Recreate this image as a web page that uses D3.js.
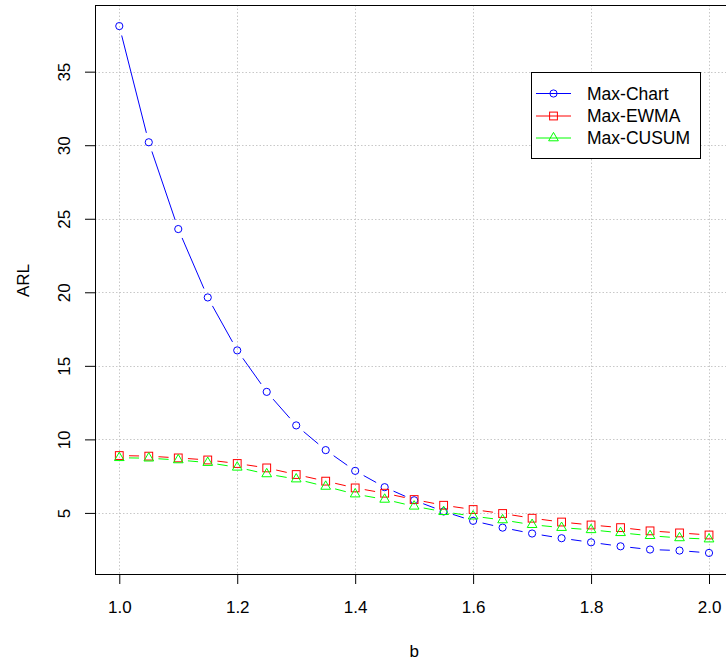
<!DOCTYPE html>
<html>
	<head>
		<meta charset="UTF-8">
		<title>ARL comparison</title>
		<script type="text/javascript" src="https://cdn.jsdelivr.net/npm/d3@7/dist/d3.min.js"></script>
		<style>
			body { margin: 0; background: #fff; }
			text { font-family: "Liberation Sans", Arial, sans-serif; fill: #000; }
		</style>
	</head>
	<body>
		<script>
			//shift values b
			var bValues = [1.0, 1.05, 1.1, 1.15, 1.2, 1.25, 1.3, 1.35, 1.4, 1.45, 1.5,
				1.55, 1.6, 1.65, 1.7, 1.75, 1.8, 1.85, 1.9, 1.95, 2.0];

			//ARL of each chart
			var maxChart = [38.1, 30.2, 24.3, 19.65, 16.05, 13.23, 10.95, 9.27, 7.86, 6.75, 5.86,
				5.1, 4.46, 4.0, 3.6, 3.28, 3.0, 2.73, 2.51, 2.44, 2.28];
			var maxEwma = [8.9, 8.86, 8.74, 8.6, 8.36, 8.06, 7.61, 7.16, 6.7, 6.34, 5.91,
				5.52, 5.23, 4.96, 4.64, 4.38, 4.18, 4.0, 3.78, 3.64, 3.5];
			var maxCusum = [8.75, 8.72, 8.6, 8.42, 8.1, 7.65, 7.3, 6.8, 6.28, 5.92, 5.45,
				5.08, 4.78, 4.52, 4.2, 4.0, 3.85, 3.65, 3.45, 3.3, 3.22];

			var seriesNames = ["Max-Chart", "Max-EWMA", "Max-CUSUM"];
			var seriesColors = ["#0000ff", "#ff0000", "#00ff00"];
			var seriesShapes = ["circle", "square", "triangle"];

			var xTicks = [1.0, 1.2, 1.4, 1.6, 1.8, 2.0];
			var yTicks = [5, 10, 15, 20, 25, 30, 35];

			var w = 726;
			var h = 664;
			//note: "top" is taken by window.top, so use plot* names
			var plotLeft = 95, plotTop = 5, plotBottom = 574;

			var svg = d3.select("body")
				.append("svg")
				.attr("width", w)
				.attr("height", h);

			//R style 4% padding round the data
			var allY = maxChart.concat(maxEwma, maxCusum);
			var yMin = d3.min(allY), yMax = d3.max(allY);
			var yPad = (yMax - yMin) * 0.04;

			var xScale = d3.scaleLinear()
				.domain([0.96, 2.04])
				.range([plotLeft + 0.7, 732.6]);

			var yScale = d3.scaleLinear()
				.domain([yMin - yPad, yMax + yPad])
				.range([plotBottom, plotTop]);

			svg.append("clipPath").attr("id", "plotclip")
				.append("rect")
				.attr("x", plotLeft).attr("y", plotTop)
				.attr("width", w - plotLeft).attr("height", plotBottom - plotTop);

			//grid (dotted, light gray)
			var grid = svg.append("g").attr("clip-path", "url(#plotclip)");
			grid.selectAll("line.vx")
				.data(xTicks)
				.enter()
				.append("line")
				.attr("x1", function(d){ return Math.round(xScale(d)) + 0.5; })
				.attr("x2", function(d){ return Math.round(xScale(d)) + 0.5; })
				.attr("y1", plotTop).attr("y2", plotBottom)
				.attr("stroke", "#c8c8c8")
				.attr("stroke-dasharray", "1.5,2");
			grid.selectAll("line.hy")
				.data(yTicks)
				.enter()
				.append("line")
				.attr("y1", function(d){ return Math.round(yScale(d)) + 0.5; })
				.attr("y2", function(d){ return Math.round(yScale(d)) + 0.5; })
				.attr("x1", plotLeft).attr("x2", w)
				.attr("stroke", "#c8c8c8")
				.attr("stroke-dasharray", "1.5,2");

			//axes
			var xAxis = d3.axisBottom(xScale)
				.tickValues(xTicks)
				.tickSize(10)
				.tickPadding(17)
				.tickFormat(d3.format(".1f"));
			var gx = svg.append("g")
				.attr("transform", "translate(0," + plotBottom + ")")
				.call(xAxis);
			gx.select(".domain").remove();
			gx.selectAll("text").attr("font-size", "17px").attr("fill", "#000")
				.attr("font-family", "Liberation Sans, Arial, sans-serif");

			var yAxis = d3.axisLeft(yScale)
				.tickValues(yTicks)
				.tickSize(10);
			var gy = svg.append("g")
				.attr("transform", "translate(" + plotLeft + ",0)")
				.call(yAxis);
			gy.select(".domain").remove();
			gy.selectAll("text")
				.attr("font-size", "17px")
				.attr("font-family", "Liberation Sans, Arial, sans-serif")
				.attr("fill", "#000")
				.attr("x", null).attr("dy", null)
				.attr("text-anchor", "middle")
				.attr("transform", "translate(-25,0) rotate(-90)");

			//box round the plot
			svg.append("rect")
				.attr("x", plotLeft + 0.5).attr("y", plotTop + 0.5)
				.attr("width", 740 - plotLeft).attr("height", plotBottom - plotTop)
				.attr("fill", "none")
				.attr("stroke", "#000");

			//axis titles
			svg.append("text")
				.attr("x", xScale(1.5))
				.attr("y", 657)
				.attr("text-anchor", "middle")
				.attr("font-size", "17px")
				.text("b");
			svg.append("text")
				.attr("transform", "translate(29," + yScale(20.8) + ") rotate(-90)")
				.attr("text-anchor", "middle")
				.attr("font-size", "17px")
				.text("ARL");

			//symbol drawing like R pch 1, 0, 2
			function drawSymbol(g, shape, color, x, y) {
				if (shape == "circle") {
					g.append("circle").attr("cx", x).attr("cy", y).attr("r", 3.6)
						.attr("fill", "none").attr("stroke", color);
				} else if (shape == "square") {
					g.append("rect").attr("x", x - 3.9).attr("y", y - 3.9)
						.attr("width", 7.8).attr("height", 7.8)
						.attr("fill", "none").attr("stroke", color);
				} else {
					var r = 5.6, xc = 4.85, yc = 2.8;
					g.append("path")
						.attr("d", "M" + x + "," + (y - r) + "L" + (x + xc) + "," + (y + yc) +
							"L" + (x - xc) + "," + (y + yc) + "Z")
						.attr("fill", "none").attr("stroke", color);
				}
			}

			//type = "b": segments with a gap round each point
			var gap = 9.7;
			var plot = svg.append("g").attr("clip-path", "url(#plotclip)");
			var allSeries = [maxChart, maxEwma, maxCusum];

			allSeries.forEach(function(values, s) {
				var g = plot.append("g");
				for (var i = 0; i < values.length - 1; i++) {
					var x0 = xScale(bValues[i]), y0 = yScale(values[i]);
					var x1 = xScale(bValues[i + 1]), y1 = yScale(values[i + 1]);
					var len = Math.sqrt((x1 - x0) * (x1 - x0) + (y1 - y0) * (y1 - y0));
					if (len <= 2 * gap) continue;
					var ux = (x1 - x0) / len, uy = (y1 - y0) / len;
					g.append("line")
						.attr("x1", x0 + ux * gap).attr("y1", y0 + uy * gap)
						.attr("x2", x1 - ux * gap).attr("y2", y1 - uy * gap)
						.attr("stroke", seriesColors[s]);
				}
				values.forEach(function(v, i) {
					drawSymbol(g, seriesShapes[s], seriesColors[s], xScale(bValues[i]), yScale(v));
				});
			});

			//legend
			var legend = svg.append("g");
			legend.append("rect")
				.attr("x", 531.5).attr("y", 72.5)
				.attr("width", 169).attr("height", 86)
				.attr("fill", "#fff")
				.attr("stroke", "#000");
			var rowY = [93.5, 116, 138];
			seriesNames.forEach(function(name, s) {
				legend.append("line")
					.attr("x1", 536).attr("x2", 571)
					.attr("y1", rowY[s]).attr("y2", rowY[s])
					.attr("stroke", seriesColors[s]);
				drawSymbol(legend, seriesShapes[s], seriesColors[s], 553.5, rowY[s]);
				legend.append("text")
					.attr("x", 587)
					.attr("y", rowY[s] + 6)
					.attr("font-size", "17.5px")
					.text(name);
			});
		</script>
	</body>
</html>
